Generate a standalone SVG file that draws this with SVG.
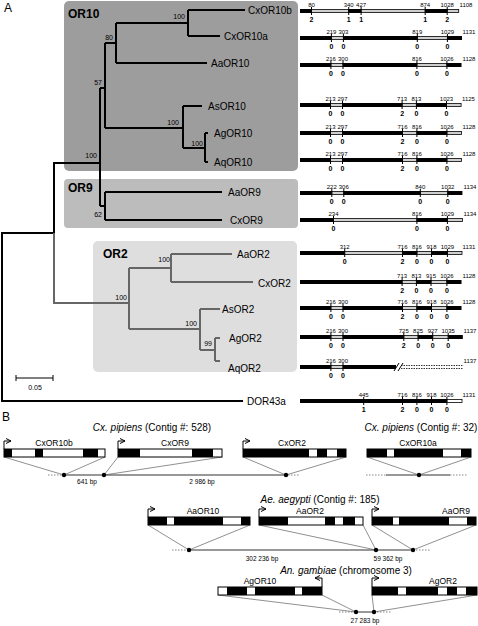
<svg xmlns="http://www.w3.org/2000/svg" width="478" height="626" viewBox="0 0 478 626">
<defs>
<style>
text{font-family:"Liberation Sans",Arial,sans-serif;fill:#000}
.lab{font-size:10px}
.bs{font-size:7px;text-anchor:end}
.clade{font-size:12px;font-weight:bold}
.pan{font-size:12px}
.num{font-size:6px;text-anchor:middle}
.ph{font-size:7px;font-weight:bold;text-anchor:middle}
.bk{fill:#000}
.lt{fill:#cfcfcf;stroke:#000;stroke-width:0.8}
.tk{stroke:#000;stroke-width:1;fill:none}
.tb{stroke:#000;stroke-width:2;fill:none}
.tg{stroke:#666;stroke-width:2;fill:none}
.gl{font-size:8.5px;text-anchor:middle}
.ttl{font-size:10px;text-anchor:middle}
.box{fill:#fff;stroke:#000;stroke-width:1}
.chr{stroke:#777;stroke-width:1.5;fill:none}
.dot{stroke:#888;stroke-width:1.2;stroke-dasharray:1.5 1.5;fill:none}
.cn{stroke:#444;stroke-width:0.6;fill:none}
.arr{stroke:#000;stroke-width:1;fill:none}
.bp{font-size:6.5px;text-anchor:middle}
</style>
<marker id="ah" viewBox="0 0 6 6" refX="5" refY="3" markerWidth="6" markerHeight="6" orient="auto" markerUnits="userSpaceOnUse"><path d="M0,0.5 L5,3 L0,5.5" fill="none" stroke="#000" stroke-width="1"/></marker>
</defs>
<rect width="478" height="626" fill="#fff"/>

<text class="pan" x="4" y="12">A</text>

<g id="clade-OR10"><rect x="64" y="1" width="234" height="170" rx="5" fill="#9d9d9d"/><text class="clade" x="68" y="18">OR10</text></g>
<g id="clade-OR9"><rect x="64" y="179" width="234" height="49" rx="4" fill="#bcbcbc"/><text class="clade" x="68" y="192">OR9</text></g>
<g id="clade-OR2"><rect x="93" y="241" width="204" height="131" rx="5" fill="#dedede"/><text class="clade" x="103" y="258">OR2</text></g>

<g id="connectors">
<path class="tb" d="M2,233 V401 H243 M1,233 H54 M54,233 V163 H100 M100,88 V206 M100,88 H105 M100,206 H105 M105,43 V128 M105,43 H116 M105,128 H183 M116,23 V63 M116,23 H188 M116,63 H207 M188,10 V36 M188,10 H245 M188,36 H220 M183,106 V148 M183,106 H202 M183,148 H205 M205,133 V162 M205,133 H208 M205,162 H208 M105,192 V220 M105,192 H222 M105,220 H222"/>
<path class="tg" d="M54,233 V303 H129 M129,268 V329 M129,268 H171 M129,329 H200 M171,254 V282 M171,254 H232 M171,282 H253 M200,309 V350 M200,309 H220 M200,350 H215 M215,338 V361 M215,338 H220 M215,361 H220"/>
</g>

<g id="bootstrap">
<text class="bs" x="185" y="19">100</text>
<text class="bs" x="113" y="40">80</text>
<text class="bs" x="102" y="85">57</text>
<text class="bs" x="179" y="125">100</text>
<text class="bs" x="203" y="146">100</text>
<text class="bs" x="97" y="158">100</text>
<text class="bs" x="102" y="217">62</text>
<text class="bs" x="170" y="262">100</text>
<text class="bs" x="127" y="300">100</text>
<text class="bs" x="197" y="326">100</text>
<text class="bs" x="212" y="346">99</text>
</g>

<g id="scale">
<path class="tk" d="M16,378 H53 M16,375 V381 M53,375 V381"/>
<text class="num" x="35" y="390" style="font-size:7px">0.05</text>
</g>

<g id="CxOR10b">
<text class="lab" x="248" y="14">CxOR10b</text>
<rect class="bk" x="300" y="9" width="11.5" height="4"/><rect class="lt" x="311.5" y="9.5" width="37.2" height="3"/><rect class="bk" x="348.7" y="9" width="12.4" height="4"/><rect class="lt" x="361.1" y="9.5" width="64.1" height="3"/><rect class="bk" x="425.2" y="9" width="22" height="4"/><rect class="lt" x="447.2" y="9.5" width="11.5" height="3"/>
<path class="tk" d="M311.5,7 V15 M348.7,7 V15 M361.1,7 V15 M425.2,7 V15 M447.2,7 V15"/>
<text class="num" x="311.5" y="7">80</text><text class="num" x="348.7" y="7">340</text><text class="num" x="361.1" y="7">427</text><text class="num" x="425.2" y="7">874</text><text class="num" x="447.2" y="7">1028</text><text class="num" x="466" y="7">1108</text>
<text class="ph" x="311.5" y="21.5">2</text><text class="ph" x="348.7" y="21.5">1</text><text class="ph" x="361.1" y="21.5">1</text><text class="ph" x="425.2" y="21.5">1</text><text class="ph" x="447.2" y="21.5">2</text>
</g>

<g id="CxOR10a">
<text class="lab" x="224" y="40">CxOR10a</text>
<rect class="bk" x="300" y="36" width="31.4" height="4"/><rect class="lt" x="331.4" y="36.5" width="12" height="3"/><rect class="bk" x="343.4" y="36" width="73.9" height="4"/><rect class="lt" x="417.3" y="36.5" width="30.1" height="3"/><rect class="bk" x="447.4" y="36" width="14.6" height="4"/>
<path class="tk" d="M331.4,34 V42 M343.4,34 V42 M417.3,34 V42 M447.4,34 V42"/>
<text class="num" x="331.4" y="34">219</text><text class="num" x="343.4" y="34">303</text><text class="num" x="417.3" y="34">819</text><text class="num" x="447.4" y="34">1029</text><text class="num" x="469" y="34">1131</text>
<text class="ph" x="331.4" y="48.5">0</text><text class="ph" x="343.4" y="48.5">0</text><text class="ph" x="417.3" y="48.5">0</text><text class="ph" x="447.4" y="48.5">0</text>
</g>

<g id="AaOR10">
<text class="lab" x="211" y="67">AaOR10</text>
<rect class="bk" x="300" y="63" width="30.9" height="4"/><rect class="lt" x="330.9" y="63.5" width="12.1" height="3"/><rect class="bk" x="343" y="63" width="73.9" height="4"/><rect class="lt" x="416.9" y="63.5" width="30" height="3"/><rect class="bk" x="446.9" y="63" width="14.6" height="4"/>
<path class="tk" d="M330.9,61 V69 M343,61 V69 M416.9,61 V69 M446.9,61 V69"/>
<text class="num" x="330.9" y="61">216</text><text class="num" x="343" y="61">300</text><text class="num" x="416.9" y="61">816</text><text class="num" x="446.9" y="61">1026</text><text class="num" x="469" y="61">1128</text>
<text class="ph" x="330.9" y="75.5">0</text><text class="ph" x="343" y="75.5">0</text><text class="ph" x="416.9" y="75.5">0</text><text class="ph" x="446.9" y="75.5">0</text>
</g>

<g id="AsOR10">
<text class="lab" x="208" y="110">AsOR10</text>
<rect class="bk" x="300" y="103" width="30.5" height="4"/><rect class="lt" x="330.5" y="103.5" width="12" height="3"/><rect class="bk" x="342.5" y="103" width="59.6" height="4"/><rect class="lt" x="402.1" y="103.5" width="14.3" height="3"/><rect class="bk" x="416.4" y="103" width="30.1" height="4"/><rect class="lt" x="446.5" y="103.5" width="14.6" height="3"/>
<path class="tk" d="M330.5,101 V109 M342.5,101 V109 M402.1,101 V109 M416.4,101 V109 M446.5,101 V109"/>
<text class="num" x="330.5" y="101">213</text><text class="num" x="342.5" y="101">297</text><text class="num" x="402.1" y="101">713</text><text class="num" x="416.4" y="101">813</text><text class="num" x="446.5" y="101">1023</text><text class="num" x="468.5" y="101">1125</text>
<text class="ph" x="330.5" y="115.5">0</text><text class="ph" x="342.5" y="115.5">0</text><text class="ph" x="402.1" y="115.5">2</text><text class="ph" x="416.4" y="115.5">0</text><text class="ph" x="446.5" y="115.5">0</text>
</g>

<g id="AgOR10">
<text class="lab" x="214" y="137">AgOR10</text>
<rect class="bk" x="300" y="131" width="30.5" height="4"/><rect class="lt" x="330.5" y="131.5" width="12" height="3"/><rect class="bk" x="342.5" y="131" width="60" height="4"/><rect class="lt" x="402.5" y="131.5" width="14.4" height="3"/><rect class="bk" x="416.9" y="131" width="30" height="4"/><rect class="lt" x="446.9" y="131.5" width="14.6" height="3"/>
<path class="tk" d="M330.5,129 V137 M342.5,129 V137 M402.5,129 V137 M416.9,129 V137 M446.9,129 V137"/>
<text class="num" x="330.5" y="129">213</text><text class="num" x="342.5" y="129">297</text><text class="num" x="402.5" y="129">716</text><text class="num" x="416.9" y="129">816</text><text class="num" x="446.9" y="129">1026</text><text class="num" x="469" y="129">1128</text>
<text class="ph" x="330.5" y="143.5">0</text><text class="ph" x="342.5" y="143.5">0</text><text class="ph" x="402.5" y="143.5">2</text><text class="ph" x="416.9" y="143.5">0</text><text class="ph" x="446.9" y="143.5">0</text>
</g>

<g id="AqOR10">
<text class="lab" x="214" y="166">AqOR10</text>
<rect class="bk" x="300" y="158" width="30.5" height="4"/><rect class="lt" x="330.5" y="158.5" width="12" height="3"/><rect class="bk" x="342.5" y="158" width="60" height="4"/><rect class="lt" x="402.5" y="158.5" width="14.4" height="3"/><rect class="bk" x="416.9" y="158" width="30" height="4"/><rect class="lt" x="446.9" y="158.5" width="14.6" height="3"/>
<path class="tk" d="M330.5,156 V164 M342.5,156 V164 M402.5,156 V164 M416.9,156 V164 M446.9,156 V164"/>
<text class="num" x="330.5" y="156">213</text><text class="num" x="342.5" y="156">297</text><text class="num" x="402.5" y="156">716</text><text class="num" x="416.9" y="156">816</text><text class="num" x="446.9" y="156">1026</text><text class="num" x="469" y="156">1128</text>
<text class="ph" x="330.5" y="170.5">0</text><text class="ph" x="342.5" y="170.5">0</text><text class="ph" x="402.5" y="170.5">2</text><text class="ph" x="416.9" y="170.5">0</text><text class="ph" x="446.9" y="170.5">0</text>
</g>

<g id="AaOR9">
<text class="lab" x="228" y="196">AaOR9</text>
<rect class="bk" x="300" y="191" width="31.8" height="4"/><rect class="lt" x="331.8" y="191.5" width="12" height="3"/><rect class="bk" x="343.8" y="191" width="76.5" height="4"/><rect class="lt" x="420.3" y="191.5" width="27.5" height="3"/><rect class="bk" x="447.8" y="191" width="14.6" height="4"/>
<path class="tk" d="M331.8,189 V197 M343.8,189 V197 M420.3,189 V197 M447.8,189 V197"/>
<text class="num" x="331.8" y="189">222</text><text class="num" x="343.8" y="189">306</text><text class="num" x="420.3" y="189">840</text><text class="num" x="447.8" y="189">1032</text><text class="num" x="470" y="189">1134</text>
<text class="ph" x="331.8" y="203.5">0</text><text class="ph" x="343.8" y="203.5">0</text><text class="ph" x="420.3" y="203.5">0</text><text class="ph" x="447.8" y="203.5">0</text>
</g>

<g id="CxOR9">
<text class="lab" x="230" y="224">CxOR9</text>
<rect class="bk" x="300" y="218" width="33.5" height="4"/><rect class="lt" x="333.5" y="218.5" width="83.4" height="3"/><rect class="bk" x="416.9" y="218" width="30.5" height="4"/><rect class="lt" x="447.4" y="218.5" width="15" height="3"/>
<path class="tk" d="M333.5,216 V224 M416.9,216 V224 M447.4,216 V224"/>
<text class="num" x="333.5" y="216">234</text><text class="num" x="416.9" y="216">816</text><text class="num" x="447.4" y="216">1029</text><text class="num" x="470" y="216">1134</text>
<text class="ph" x="333.5" y="230.5">0</text><text class="ph" x="416.9" y="230.5">0</text><text class="ph" x="447.4" y="230.5">0</text>
</g>

<g id="AaOR2">
<text class="lab" x="237" y="258">AaOR2</text>
<rect class="bk" x="300" y="251" width="44.7" height="4"/><rect class="lt" x="344.7" y="251.5" width="57.8" height="3"/><rect class="bk" x="402.5" y="251" width="14.4" height="4"/><rect class="lt" x="416.9" y="251.5" width="14.6" height="3"/><rect class="bk" x="431.5" y="251" width="15.9" height="4"/><rect class="lt" x="447.4" y="251.5" width="14.6" height="3"/>
<path class="tk" d="M344.7,249 V257 M402.5,249 V257 M416.9,249 V257 M431.5,249 V257 M447.4,249 V257"/>
<text class="num" x="344.7" y="249">312</text><text class="num" x="402.5" y="249">716</text><text class="num" x="416.9" y="249">816</text><text class="num" x="431.5" y="249">918</text><text class="num" x="447.4" y="249">1029</text><text class="num" x="469" y="249">1131</text>
<text class="ph" x="344.7" y="263.5">0</text><text class="ph" x="402.5" y="263.5">2</text><text class="ph" x="416.9" y="263.5">0</text><text class="ph" x="431.5" y="263.5">0</text><text class="ph" x="447.4" y="263.5">0</text>
</g>

<g id="CxOR2">
<text class="lab" x="258" y="287">CxOR2</text>
<rect class="bk" x="300" y="280" width="102.1" height="4"/><rect class="lt" x="402.1" y="280.5" width="14.3" height="3"/><rect class="bk" x="416.4" y="280" width="14.6" height="4"/><rect class="lt" x="431" y="280.5" width="15.9" height="3"/><rect class="bk" x="446.9" y="280" width="14.6" height="4"/>
<path class="tk" d="M402.1,278 V286 M416.4,278 V286 M431,278 V286 M446.9,278 V286"/>
<text class="num" x="402.1" y="278">713</text><text class="num" x="416.4" y="278">813</text><text class="num" x="431" y="278">915</text><text class="num" x="446.9" y="278">1026</text><text class="num" x="469" y="278">1128</text>
<text class="ph" x="402.1" y="292.5">2</text><text class="ph" x="416.4" y="292.5">0</text><text class="ph" x="431" y="292.5">0</text><text class="ph" x="446.9" y="292.5">0</text>
</g>

<g id="AsOR2">
<text class="lab" x="222" y="313">AsOR2</text>
<rect class="bk" x="300" y="306" width="30.9" height="4"/><rect class="lt" x="330.9" y="306.5" width="12.1" height="3"/><rect class="bk" x="343" y="306" width="59.5" height="4"/><rect class="lt" x="402.5" y="306.5" width="14.4" height="3"/><rect class="bk" x="416.9" y="306" width="14.6" height="4"/><rect class="lt" x="431.5" y="306.5" width="15.4" height="3"/><rect class="bk" x="446.9" y="306" width="14.6" height="4"/>
<path class="tk" d="M330.9,304 V312 M343,304 V312 M402.5,304 V312 M416.9,304 V312 M431.5,304 V312 M446.9,304 V312"/>
<text class="num" x="330.9" y="304">216</text><text class="num" x="343" y="304">300</text><text class="num" x="402.5" y="304">716</text><text class="num" x="416.9" y="304">816</text><text class="num" x="431.5" y="304">918</text><text class="num" x="446.9" y="304">1026</text><text class="num" x="469" y="304">1128</text>
<text class="ph" x="330.9" y="318.5">0</text><text class="ph" x="343" y="318.5">0</text><text class="ph" x="402.5" y="318.5">2</text><text class="ph" x="416.9" y="318.5">0</text><text class="ph" x="431.5" y="318.5">0</text><text class="ph" x="446.9" y="318.5">0</text>
</g>

<g id="AgOR2">
<text class="lab" x="229" y="342">AgOR2</text>
<rect class="bk" x="300" y="335" width="30.9" height="4"/><rect class="lt" x="330.9" y="335.5" width="12.1" height="3"/><rect class="bk" x="343" y="335" width="60.8" height="4"/><rect class="lt" x="403.8" y="335.5" width="14.3" height="3"/><rect class="bk" x="418.1" y="335" width="14.6" height="4"/><rect class="lt" x="432.7" y="335.5" width="15.5" height="3"/><rect class="bk" x="448.2" y="335" width="14.6" height="4"/>
<path class="tk" d="M330.9,333 V341 M343,333 V341 M403.8,333 V341 M418.1,333 V341 M432.7,333 V341 M448.2,333 V341"/>
<text class="num" x="330.9" y="333">216</text><text class="num" x="343" y="333">300</text><text class="num" x="403.8" y="333">725</text><text class="num" x="418.1" y="333">825</text><text class="num" x="432.7" y="333">927</text><text class="num" x="448.2" y="333">1035</text><text class="num" x="470" y="333">1137</text>
<text class="ph" x="330.9" y="347.5">0</text><text class="ph" x="343" y="347.5">0</text><text class="ph" x="403.8" y="347.5">2</text><text class="ph" x="418.1" y="347.5">0</text><text class="ph" x="432.7" y="347.5">0</text><text class="ph" x="448.2" y="347.5">0</text>
</g>

<g id="AqOR2">
<text class="lab" x="228" y="372">AqOR2</text>
<rect class="bk" x="300" y="365" width="30.9" height="4"/><rect class="lt" x="330.9" y="365.5" width="12.1" height="3"/><rect class="bk" x="343" y="365" width="53" height="4"/>
<path class="tk" d="M394,371 L399,363 M398,371 L403,363"/>
<path d="M401,365.5 H463 M401,368.5 H463" stroke="#000" stroke-width="0.8" stroke-dasharray="1.5 1"/>
<path class="tk" d="M330.9,363 V371 M343,363 V371"/>
<text class="num" x="330.9" y="363">216</text><text class="num" x="343" y="363">300</text><text class="num" x="470" y="363">1137</text>
<text class="ph" x="330.9" y="377.5">0</text><text class="ph" x="343" y="377.5">0</text>
</g>

<g id="DOR43a">
<text class="lab" x="247" y="405">DOR43a</text>
<rect class="bk" x="300" y="399" width="146.9" height="4"/><rect class="lt" x="446.9" y="399.5" width="15.1" height="3" style="fill:#fff"/>
<path class="tk" d="M363.7,397 V405 M402.5,397 V405 M416.9,397 V405 M431.5,397 V405 M446.9,397 V405"/>
<text class="num" x="363.7" y="397">445</text><text class="num" x="402.5" y="397">716</text><text class="num" x="416.9" y="397">816</text><text class="num" x="431.5" y="397">918</text><text class="num" x="446.9" y="397">1026</text><text class="num" x="469" y="397">1131</text>
<text class="ph" x="363.7" y="411.5">1</text><text class="ph" x="402.5" y="411.5">2</text><text class="ph" x="416.9" y="411.5">0</text><text class="ph" x="431.5" y="411.5">0</text><text class="ph" x="446.9" y="411.5">0</text>
</g>

<text class="pan" x="2" y="421">B</text>

<g id="titles">
<text class="ttl" x="152" y="431"><tspan font-style="italic">Cx. pipiens</tspan> (Contig #: 528)</text>
<text class="ttl" x="421" y="431"><tspan font-style="italic">Cx. pipiens</tspan> (Contig #: 32)</text>
<text class="ttl" x="320" y="503"><tspan font-style="italic">Ae. aegypti</tspan> (Contig #: 185)</text>
<text class="ttl" x="346" y="574"><tspan font-style="italic">An. gambiae</tspan> (chromosome 3)</text>
</g>

<g id="chromosomes">
<path class="chr" d="M64,475 H286 M386,475 H450 M189,550 H413 M356,612 H374"/>
<path class="dot" d="M48,475 H62 M288,475 H300 M366,475 H386 M450,475 H468 M172,550 H188 M416,550 H431 M339,612 H354 M377,612 H391"/>
<path class="cn" d="M4,457 L64,475 L105,457 M118,457 L104,475 L222,457 M243,457 L286,475 L346,457 M367,457 L419,475 L471,457 M148,525 L189,550 L250,525 M259,525 L376,550 L363,525 M372,525 L413,550 L476,525 M218,595 L356,612 L322,595 M372,595 L374,612 L477,595"/>
<g fill="#000"><circle cx="64" cy="475" r="2.2"/><circle cx="104" cy="475" r="2.2"/><circle cx="286" cy="475" r="2.2"/><circle cx="419" cy="475" r="2.2"/><circle cx="189" cy="550" r="2.2"/><circle cx="376" cy="550" r="2.2"/><circle cx="413" cy="550" r="2.2"/><circle cx="356" cy="612" r="2.2"/><circle cx="374" cy="612" r="2.2"/></g>
<text class="bp" x="87" y="484">641 bp</text>
<text class="bp" x="202" y="484">2 986 bp</text>
<text class="bp" x="262" y="561">302 236 bp</text>
<text class="bp" x="388" y="561">59 362 bp</text>
<text class="bp" x="365" y="623">27 283 bp</text>
</g>

<g id="gene-CxOR10b">
<rect class="box" x="4" y="449" width="101" height="8"/>
<path class="bk" d="M4,449h8v8h-8z M35,449h8v8h-8z M83,449h15v8h-15z"/>
<path class="arr" d="M4,449 V441 H11" marker-end="url(#ah)"/>
<text class="gl" x="54" y="446">CxOR10b</text>
</g>
<g id="gene-CxOR9">
<rect class="box" x="118" y="449" width="104" height="8"/>
<path class="bk" d="M118,449h22v8h-22z M192,449h21v8h-21z"/>
<path class="arr" d="M118,449 V441 H125" marker-end="url(#ah)"/>
<text class="gl" x="175" y="446">CxOR9</text>
</g>
<g id="gene-CxOR2">
<rect class="box" x="243" y="449" width="103" height="8"/>
<path class="bk" d="M243,449h66v8h-66z M317,449h10v8h-10z M337,449h9v8h-9z"/>
<path class="arr" d="M243,449 V441 H250" marker-end="url(#ah)"/>
<text class="gl" x="292" y="446">CxOR2</text>
</g>
<g id="gene-CxOR10a">
<rect class="box" x="367" y="449" width="104" height="8"/>
<path class="bk" d="M367,449h20v8h-20z M394,449h49v8h-49z M461,449h10v8h-10z"/>
<text class="gl" x="418" y="446">CxOR10a</text>
</g>
<g id="gene-AaOR10">
<rect class="box" x="148" y="517" width="102" height="8"/>
<path class="bk" d="M148,517h19v8h-19z M174,517h49v8h-49z M241,517h9v8h-9z"/>
<path class="arr" d="M148,517 V509 H155" marker-end="url(#ah)"/>
<text class="gl" x="203" y="514">AaOR10</text>
</g>
<g id="gene-AaOR2">
<rect class="box" x="259" y="517" width="104" height="8"/>
<path class="bk" d="M259,517h29v8h-29z M325,517h10v8h-10z M343,517h12v8h-12z"/>
<path class="arr" d="M259,517 V509 H266" marker-end="url(#ah)"/>
<text class="gl" x="310" y="514">AaOR2</text>
</g>
<g id="gene-AaOR9">
<rect class="box" x="372" y="517" width="104" height="8"/>
<path class="bk" d="M372,517h21v8h-21z M399,517h50v8h-50z M467,517h9v8h-9z"/>
<path class="arr" d="M372,517 V509 H379" marker-end="url(#ah)"/>
<text class="gl" x="456" y="514">AaOR9</text>
</g>
<g id="gene-AgOR10">
<rect class="box" x="218" y="587" width="104" height="8"/>
<path class="bk" d="M227,587h20v8h-20z M255,587h40v8h-40z M302,587h20v8h-20z"/>
<path class="arr" d="M322,587 V578 H315" marker-end="url(#ah)"/>
<text class="gl" x="260" y="584">AgOR10</text>
</g>
<g id="gene-AgOR2">
<rect class="box" x="372" y="587" width="105" height="8"/>
<path class="bk" d="M372,587h26v8h-26z M406,587h32v8h-32z M447,587h10v8h-10z M466,587h11v8h-11z"/>
<path class="arr" d="M372,587 V578 H379" marker-end="url(#ah)"/>
<text class="gl" x="443" y="584">AgOR2</text>
</g>
</svg>
